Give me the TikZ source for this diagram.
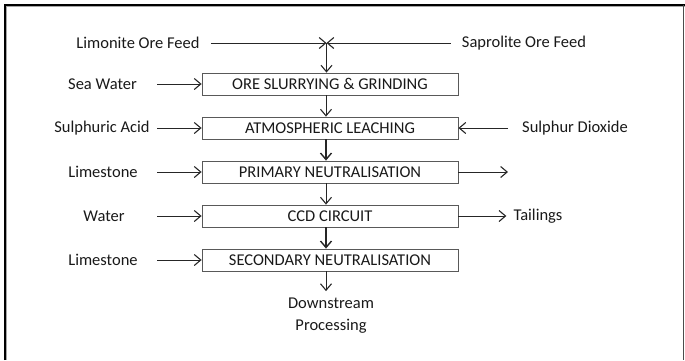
\documentclass[tikz,border=0pt]{standalone}
\usepackage{fontspec}
\setmainfont{Carlito}
\usetikzlibrary{arrows.meta}
\begin{document}
\begin{tikzpicture}[x=1pt,y=-1pt,
  lbl/.style={font=\fontsize{16.5}{22}\selectfont, text=black!90, inner sep=2pt},
  stage/.style={draw=black!65, line width=0.8pt, minimum width=256pt, minimum height=22pt, inner sep=0pt, font=\fontsize{16.5}{20}\selectfont, text=black!90},
  arr/.style={draw=black!85, line width=0.9pt, -{Straight Barb[length=6.5pt,width=11pt,line width=1.1pt]}},
  tarr/.style={draw=black!85, line width=1.6pt, -{Straight Barb[length=6.5pt,width=11pt,line width=1.4pt]}}]
\useasboundingbox (0,0) rectangle (685,360);
% frame
\draw[black!35, line width=1pt] (6.5,360) -- (6.5,6.5) -- (685,6.5);
\draw[black, line width=2pt] (5,360) -- (5,5) -- (685,5);
\draw[black!70, line width=1.2pt] (683.5,5) -- (683.5,360);
% stages
\node[stage] (b1) at (330,84) {ORE SLURRYING \& GRINDING};
\node[stage] (b2) at (330,128) {ATMOSPHERIC LEACHING};
\node[stage] (b3) at (330,172) {PRIMARY NEUTRALISATION};
\node[stage] (b4) at (330,216) {CCD CIRCUIT};
\node[stage] (b5) at (330,260) {SECONDARY NEUTRALISATION};
% feeds
\node[lbl] (lim) at (138,43) {Limonite Ore Feed};
\node[lbl] (sap) at (524,43) {Saprolite Ore Feed};
\coordinate (j) at (326.5,43);
\coordinate (L) at (157,0);
\coordinate (R) at (508,0);
\node[lbl] (sw) at (102.5,84) {Sea Water};
\node[lbl] (sa) at (102,128) {Sulphuric Acid};
\node[lbl] (ls1) at (103,172) {Limestone};
\node[lbl] (wa) at (104,216) {Water};
\node[lbl] (ls2) at (103,260) {Limestone};
\node[lbl] (sd) at (575,128) {Sulphur Dioxide};
\node[lbl] (tl) at (538,216) {Tailings};
\node[lbl, align=center] (ds) at (331,316) {Downstream\\Processing};
% connectors
\draw[arr, shorten <=9pt] (lim) -- (j);
\draw[arr, shorten <=9pt] (sap) -- (j);
\draw[arr] (j) -- (j |- b1.north);
\draw[arr] ([xshift=-4pt]b1.south) -- ([xshift=-4pt]b2.north);
\draw[tarr] ([xshift=-4pt]b2.south) -- ([xshift=-4pt]b3.north);
\draw[arr] ([xshift=-4pt]b3.south) -- ([xshift=-4pt]b4.north);
\draw[tarr] ([xshift=-4pt]b4.south) -- ([xshift=-4pt]b5.north);
\draw[arr, shorten >=5pt] ([xshift=-4pt]b5.south) -- ([xshift=-4pt]b5.south |- ds.north);
\draw[arr] (sw -| L) -- (b1.west);
\draw[arr] (sa -| L) -- (b2.west);
\draw[arr] (ls1 -| L) -- (b3.west);
\draw[arr] (wa -| L) -- (b4.west);
\draw[arr] (ls2 -| L) -- (b5.west);
\draw[arr] (sd -| R) -- (b2.east);
\draw[arr] (b3.east) -- (b3.east -| R);
\draw[arr, shorten >=5pt] (b4.east) -- (tl.west);
\end{tikzpicture}
\end{document}
